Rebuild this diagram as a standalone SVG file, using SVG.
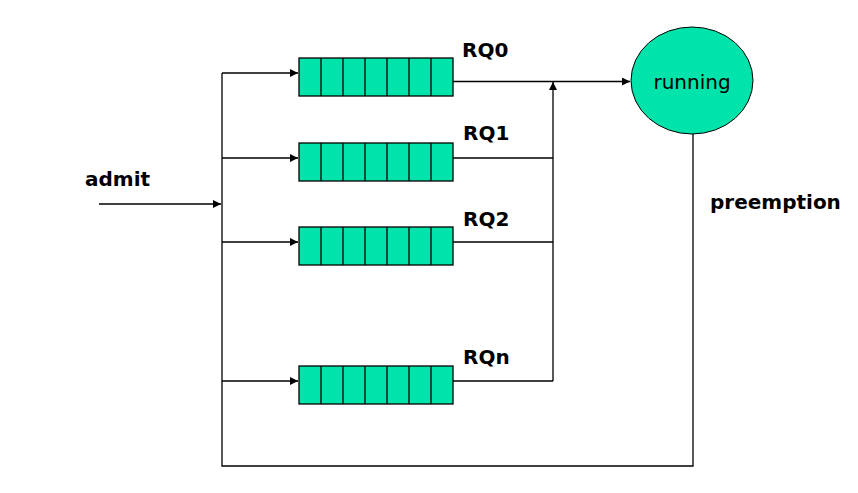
<svg xmlns="http://www.w3.org/2000/svg" width="858" height="493" viewBox="0 0 858 493">
<style>
.q{fill:#00E3AA;stroke:#000;stroke-width:1.3}
.c{stroke:#000;stroke-width:1.3}
.ln{fill:none;stroke:#000;stroke-width:1.3}
.lbl{font-family:"DejaVu Sans",Verdana,sans-serif;font-weight:bold;font-size:20px;fill:#000}
.txt{font-family:"DejaVu Sans",Verdana,sans-serif;font-size:20px;fill:#000}
</style>
<defs>
<marker id="ah" viewBox="0 0 10 10" refX="10" refY="5" markerWidth="8" markerHeight="8" markerUnits="userSpaceOnUse" orient="auto">
<path d="M0,0 L10,5 L0,10 Z" fill="#000"/>
</marker>
<g id="cells">
<line class="c" x1="321" y1="0" x2="321" y2="38"/>
<line class="c" x1="343" y1="0" x2="343" y2="38"/>
<line class="c" x1="365" y1="0" x2="365" y2="38"/>
<line class="c" x1="387" y1="0" x2="387" y2="38"/>
<line class="c" x1="409" y1="0" x2="409" y2="38"/>
<line class="c" x1="431" y1="0" x2="431" y2="38"/>
</g>
</defs>
<rect width="858" height="493" fill="#fff"/>
<g id="connectors">
<path class="ln" d="M222,73 L222,466 L693,466 L693,134"/>
<line class="c" x1="99" y1="204" x2="221" y2="204" marker-end="url(#ah)"/>
<line class="c" x1="222" y1="73" x2="298" y2="73" marker-end="url(#ah)"/>
<line class="c" x1="222" y1="158" x2="298" y2="158" marker-end="url(#ah)"/>
<line class="c" x1="222" y1="242" x2="298" y2="242" marker-end="url(#ah)"/>
<line class="c" x1="222" y1="381" x2="298" y2="381" marker-end="url(#ah)"/>
<line class="c" x1="453" y1="81.5" x2="630" y2="81.5" marker-end="url(#ah)"/>
<path class="ln" d="M453,158 L553,158 M453,242 L553,242 M453,381 L553,381"/>
<line class="c" x1="553" y1="381" x2="553" y2="82" marker-end="url(#ah)"/>
</g>
<g id="rq0">
<rect class="q" x="299" y="58" width="154" height="38"/>
<use href="#cells" y="58"/>
<text class="lbl" x="462" y="57">RQ0</text>
</g>
<g id="rq1">
<rect class="q" x="299" y="143" width="154" height="38"/>
<use href="#cells" y="143"/>
<text class="lbl" x="463" y="140">RQ1</text>
</g>
<g id="rq2">
<rect class="q" x="299" y="227" width="154" height="38"/>
<use href="#cells" y="227"/>
<text class="lbl" x="463" y="226">RQ2</text>
</g>
<g id="rqn">
<rect class="q" x="299" y="366" width="154" height="38"/>
<use href="#cells" y="366"/>
<text class="lbl" x="463" y="364">RQn</text>
</g>
<g id="running">
<ellipse cx="692" cy="80.5" rx="61" ry="53.5" fill="#00E3AA" stroke="#000" stroke-width="1"/>
<text class="txt" x="692" y="89" text-anchor="middle">running</text>
</g>
<text class="lbl" x="85" y="186">admit</text>
<text class="lbl" x="710" y="209">preemption</text>
</svg>
